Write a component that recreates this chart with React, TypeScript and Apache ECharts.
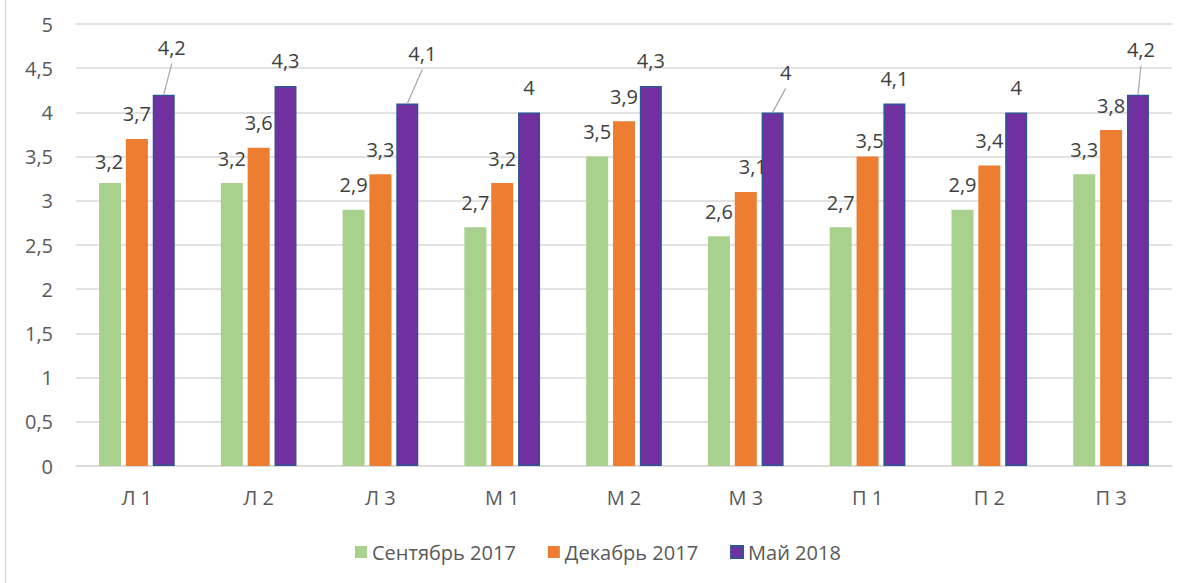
import React, { useEffect, useRef } from "react";
import * as echarts from "echarts";

const categories = ["Л 1", "Л 2", "Л 3", "М 1", "М 2", "М 3", "П 1", "П 2", "П 3"];
const seriesNames = ["Сентябрь 2017", "Декабрь 2017", "Май 2018"];
const sep2017 = [3.2, 3.2, 2.9, 2.7, 3.5, 2.6, 2.7, 2.9, 3.3];
const dec2017 = [3.7, 3.6, 3.3, 3.2, 3.9, 3.1, 3.5, 3.4, 3.8];
const may2018 = [4.2, 4.3, 4.1, 4.0, 4.3, 4.0, 4.1, 4.0, 4.2];
const yTicks = [0, 0.5, 1, 1.5, 2, 2.5, 3, 3.5, 4, 4.5, 5];

const colors = ["#A9D18E", "#ED7D31", "#7030A0"];
const FONT = "Open Sans";
const FS = 20;
const LABEL_DIST = 15;

// label nudges (style only): key "series-index" -> [dx, dy, leaderLine]
const labelShift: Record<string, [number, number, boolean]> = {
  "0-0": [-1, 3, false],
  "2-0": [8, -22, true],
  "2-2": [15, -25, true],
  "1-5": [7, 0, false],
  "2-5": [13, -15, true],
  "1-6": [2, 9, false],
  "2-8": [3, -20, true],
};

const fmt = (v: number) => String(v).replace(".", ",");

export default function App() {
  const ref = useRef<HTMLDivElement>(null);
  useEffect(() => {
    if (!ref.current) return;
    const chart = echarts.init(ref.current, null, { renderer: "svg" });
    const all = [sep2017, dec2017, may2018];
    const series = all.map((arr, si) => ({
      name: seriesNames[si],
      type: "bar",
      barWidth: 22,
      barGap: "22%",
      itemStyle:
        si === 2
          ? { color: colors[si], borderColor: "#2F5597", borderWidth: 1.5 }
          : { color: colors[si] },
      label: {
        show: true,
        position: "top",
        distance: LABEL_DIST,
        color: "#404040",
        fontSize: FS,
        fontFamily: FONT,
        formatter: (p: any) => fmt(p.value),
      },
      labelLayout: (p: any) => {
        const s = labelShift[`${si}-${p.dataIndex}`];
        return s ? { dx: s[0], dy: s[1] } : {};
      },
      data: arr.slice(),
    }));
    const option: any = {
      animation: false,
      textStyle: { fontFamily: FONT },
      grid: { left: 76, right: 18, top: 24, bottom: 117 },
      legend: {
        data: seriesNames,
        left: 350,
        top: 537,
        itemWidth: 12,
        itemHeight: 12,
        itemGap: 32,
        icon: "rect",
        textStyle: { color: "#595959", fontSize: FS, fontFamily: FONT },
      },
      xAxis: {
        type: "category",
        data: categories,
        axisLine: { lineStyle: { color: "#D9D9D9", width: 1.5 } },
        axisTick: { show: false },
        axisLabel: { color: "#595959", fontSize: FS, margin: 21 },
      },
      yAxis: {
        type: "value",
        min: yTicks[0],
        max: yTicks[yTicks.length - 1],
        interval: 0.5,
        axisLine: { show: false },
        axisTick: { show: false },
        splitLine: { lineStyle: { color: "#D9D9D9", width: 1.5 } },
        axisLabel: { color: "#595959", fontSize: FS, margin: 23, formatter: (v: number) => fmt(v) },
      },
      graphic: [
        {
          type: "line",
          shape: { x1: 5.5, y1: 0, x2: 5.5, y2: 583 },
          style: { stroke: "#D9D9D9", lineWidth: 1.5 },
        },
      ],
      series,
    };
    chart.setOption(option);

    // leader lines computed from the library's own bar layout
    try {
      const model: any = (chart as any).getModel();
      const leaders: any[] = [];
      Object.keys(labelShift).forEach((k) => {
        const [si, di] = k.split("-").map(Number);
        const s = labelShift[k];
        if (!s[2]) return;
        const lay = model.getSeriesByIndex(si).getData().getItemLayout(di);
        if (!lay) return;
        const x0 = lay.x + lay.width / 2;
        const top = Math.min(lay.y, lay.y + lay.height);
        const labelCy = top - LABEL_DIST - FS / 2 + s[1];
        leaders.push({
          type: "line",
          shape: { x1: x0, y1: top, x2: x0 + s[0], y2: labelCy + 16 },
          style: { stroke: "#A6A6A6", lineWidth: 1.2 },
          z: 10,
        });
      });
      chart.setOption({ graphic: option.graphic.concat(leaders) }, { replaceMerge: ["graphic"] });
    } catch (e) {
      // ignore
    }
    return () => chart.dispose();
  }, []);
  return <div ref={ref} style={{ width: 1190, height: 583, position: "absolute", left: 0, top: 0 }} />;
}
